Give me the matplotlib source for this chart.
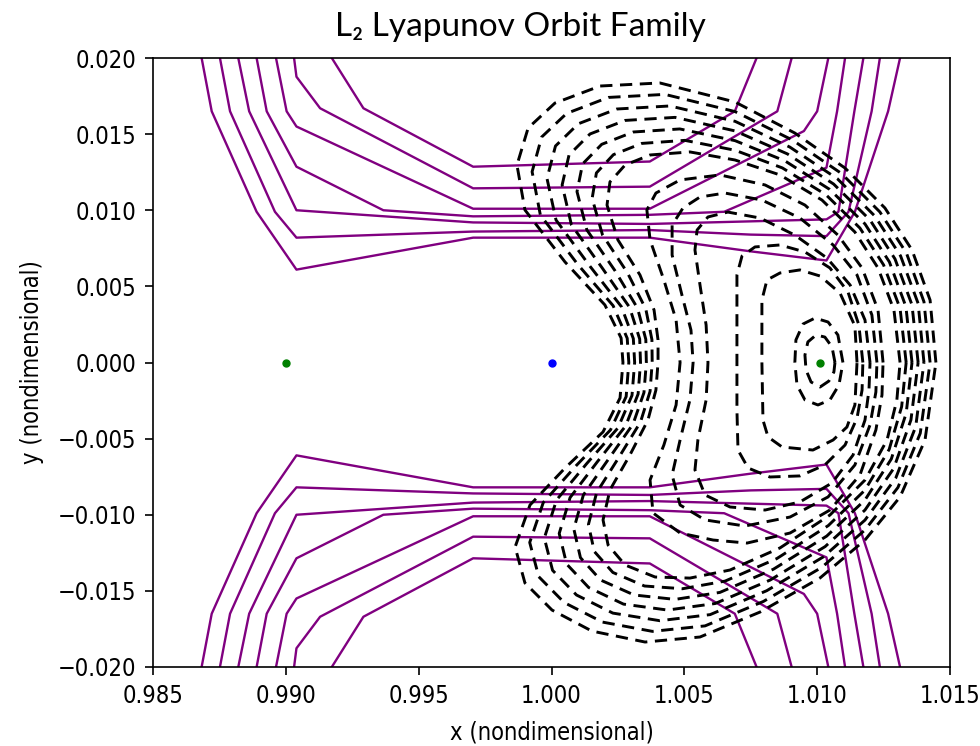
import matplotlib
matplotlib.use("Agg")
import matplotlib.pyplot as plt
from matplotlib.ticker import FuncFormatter
from matplotlib import font_manager
import numpy as np

# ---------------- data ----------------
L1 = (0.9900, 0.0)
L2 = (1.0101, 0.0)
EARTH = (1.0000, 0.0)

x_ticks = [0.985, 0.990, 0.995, 1.000, 1.005, 1.010, 1.015]
y_ticks = [-0.020, -0.015, -0.010, -0.005, 0.000, 0.005, 0.010, 0.015, 0.020]

# zero-velocity curves, upper half (lower half is the mirror image)
zvc_a = [(0.98683, 0.0200), (0.98721, 0.0165), (0.98890, 0.0099), (0.99040, 0.0061), (0.99705, 0.0082),
         (1.00370, 0.0082), (1.00750, 0.0073), (1.01035, 0.0067), (1.01142, 0.0099), (1.01267, 0.0165), (1.01312, 0.0200)]
zvc_b = [(0.98752, 0.0200), (0.98790, 0.0165), (0.98959, 0.0099), (0.99040, 0.0082), (0.99705, 0.0086),
         (1.00370, 0.0087), (1.00750, 0.0084), (1.01035, 0.0083), (1.01118, 0.0099), (1.01205, 0.0165), (1.01236, 0.0200)]
zvc_c = [(0.98821, 0.0200), (0.98862, 0.0165), (0.99040, 0.0100), (0.99705, 0.0092), (1.00370, 0.0091),
         (1.01035, 0.0094), (1.01080, 0.0099), (1.01140, 0.0165), (1.01174, 0.0200)]
zvc_d = [(0.98890, 0.0200), (0.98928, 0.0165), (0.99040, 0.01286), (0.99367, 0.0100), (0.99705, 0.0096),
         (1.00370, 0.0097), (1.00650, 0.0099), (1.01035, 0.0128), (1.01075, 0.0165), (1.01105, 0.0200)]
zvc_e = [(0.98963, 0.0200), (0.99003, 0.0165), (0.99040, 0.0155), (0.99705, 0.0101), (1.00370, 0.0101),
         (1.00950, 0.0152), (1.01000, 0.0165), (1.01042, 0.0200)]
zvc_f = [(0.99031, 0.0200), (0.99040, 0.01877), (0.99129, 0.0167), (0.99705, 0.01144), (1.00370, 0.01155),
         (1.00850, 0.0165), (1.00904, 0.0200)]
zvc_g = [(0.99173, 0.0200), (0.99292, 0.0167), (0.99705, 0.01286), (1.00370, 0.0132),
         (1.00690, 0.0165), (1.00772, 0.0200)]

# Lyapunov orbits around L2 (smallest to largest)
orbit_01 = [(1.01067, 0.00000), (1.01056, 0.00102), (1.01029, 0.00167), (1.00996, 0.00181), (1.00965, 0.00135),
            (1.00954, 0.00049), (1.00958, -0.00049), (1.00977, -0.00128), (1.01011, -0.00161), (1.01044, -0.00122),
            (1.01063, -0.00062)]
orbit_02 = [(1.01097, 0.00000), (1.01078, 0.00181), (1.01041, 0.00266), (1.00992, 0.00292), (1.00947, 0.00253),
            (1.00920, 0.00148), (1.00916, 0.00000), (1.00924, -0.00148), (1.00954, -0.00246), (1.01003, -0.00279),
            (1.01048, -0.00246), (1.01082, -0.00148)]
orbit_03 = [(1.01150, 0.00000), (1.01142, 0.00240), (1.01086, 0.00456), (1.01011, 0.00568), (1.00935, 0.00608),
            (1.00860, 0.00588), (1.00811, 0.00542), (1.00792, 0.00410), (1.00792, 0.00000), (1.00796, -0.00378),
            (1.00815, -0.00489), (1.00868, -0.00555), (1.00984, -0.00575), (1.01060, -0.00509), (1.01112, -0.00424),
            (1.01142, -0.00279)]
orbit_04 = [(1.01172, 0.00000), (1.01157, 0.00246), (1.01116, 0.00463), (1.01048, 0.00621), (1.00954, 0.00726),
            (1.00860, 0.00772), (1.00766, 0.00759), (1.00717, 0.00699), (1.00698, 0.00575), (1.00698, 0.00279),
            (1.00698, 0.00000), (1.00698, -0.00312), (1.00702, -0.00575), (1.00740, -0.00693), (1.00822, -0.00752),
            (1.00935, -0.00745), (1.01029, -0.00673), (1.01105, -0.00542), (1.01150, -0.00365), (1.01169, -0.00181)]
orbit_05 = [(1.01199, 0.00000), (1.01180, 0.00279), (1.01124, 0.00509), (1.01037, 0.00686), (1.00916, 0.00837),
            (1.00785, 0.00949), (1.00664, 0.00988), (1.00589, 0.00956), (1.00548, 0.00870), (1.00540, 0.00739),
            (1.00559, 0.00509), (1.00582, 0.00246), (1.00589, 0.00000), (1.00582, -0.00246), (1.00551, -0.00509),
            (1.00540, -0.00706), (1.00578, -0.00870), (1.00672, -0.00949), (1.00804, -0.00969), (1.00935, -0.00916),
            (1.01056, -0.00791), (1.01135, -0.00608), (1.01180, -0.00378), (1.01195, -0.00181)]
orbit_06 = [(1.01225, 0.00000), (1.01206, 0.00312), (1.01150, 0.00575), (1.01060, 0.00772), (1.00935, 0.00949),
            (1.00792, 0.01067), (1.00653, 0.01113), (1.00559, 0.01087), (1.00495, 0.01015), (1.00454, 0.00903),
            (1.00454, 0.00706), (1.00491, 0.00443), (1.00525, 0.00213), (1.00533, 0.00000), (1.00521, -0.00246),
            (1.00484, -0.00509), (1.00454, -0.00739), (1.00484, -0.00936), (1.00578, -0.01034), (1.00728, -0.01074),
            (1.00898, -0.01015), (1.01041, -0.00883), (1.01142, -0.00673), (1.01199, -0.00410), (1.01221, -0.00194)]
orbit_07 = [(1.01248, 0.00000), (1.01229, 0.00345), (1.01169, 0.00621), (1.01078, 0.00837), (1.00954, 0.01034),
            (1.00804, 0.01166), (1.00634, 0.01232), (1.00484, 0.01199), (1.00393, 0.01113), (1.00359, 0.01002),
            (1.00371, 0.00805), (1.00423, 0.00542), (1.00469, 0.00279), (1.00484, 0.00000), (1.00469, -0.00279),
            (1.00423, -0.00542), (1.00371, -0.00772), (1.00382, -0.00988), (1.00484, -0.01120), (1.00608, -0.01166),
            (1.00736, -0.01186), (1.00898, -0.01120), (1.01048, -0.00969), (1.01161, -0.00739), (1.01221, -0.00443),
            (1.01244, -0.00213)]
orbit_08 = [(1.01312, 0.00000), (1.01289, 0.00345), (1.01229, 0.00621), (1.01142, 0.00857), (1.01018, 0.01067),
            (1.00860, 0.01232), (1.00691, 0.01330), (1.00521, 0.01383), (1.00371, 0.01363), (1.00277, 0.01297),
            (1.00220, 0.01186), (1.00209, 0.01034), (1.00250, 0.00805), (1.00333, 0.00575), (1.00386, 0.00345),
            (1.00401, 0.00148), (1.00401, 0.00000), (1.00393, -0.00181), (1.00363, -0.00378), (1.00295, -0.00608),
            (1.00220, -0.00837), (1.00194, -0.01034), (1.00213, -0.01199), (1.00277, -0.01330), (1.00390, -0.01409),
            (1.00521, -0.01416), (1.00672, -0.01363), (1.00860, -0.01218), (1.01048, -0.01002), (1.01180, -0.00772),
            (1.01263, -0.00509), (1.01300, -0.00246)]
orbit_09 = [(1.01335, 0.00000), (1.01312, 0.00356), (1.01250, 0.00641), (1.01161, 0.00883), (1.01033, 0.01102),
            (1.00869, 0.01278), (1.00691, 0.01394), (1.00502, 0.01459), (1.00340, 0.01439), (1.00233, 0.01365),
            (1.00169, 0.01245), (1.00153, 0.01078), (1.00192, 0.00838), (1.00286, 0.00589), (1.00355, 0.00351),
            (1.00378, 0.00150), (1.00379, 0.00000), (1.00371, -0.00190), (1.00335, -0.00391), (1.00254, -0.00622),
            (1.00170, -0.00854), (1.00139, -0.01064), (1.00161, -0.01241), (1.00231, -0.01379), (1.00350, -0.01468),
            (1.00493, -0.01486), (1.00653, -0.01436), (1.00848, -0.01288), (1.01042, -0.01071), (1.01180, -0.00838),
            (1.01271, -0.00571), (1.01318, -0.00290)]
orbit_10 = [(1.01357, 0.00000), (1.01334, 0.00367), (1.01272, 0.00660), (1.01180, 0.00910), (1.01047, 0.01137),
            (1.00879, 0.01324), (1.00691, 0.01457), (1.00483, 0.01534), (1.00308, 0.01514), (1.00189, 0.01433),
            (1.00117, 0.01304), (1.00096, 0.01122), (1.00133, 0.00871), (1.00239, 0.00603), (1.00324, 0.00356),
            (1.00355, 0.00152), (1.00357, 0.00000), (1.00348, -0.00198), (1.00307, -0.00404), (1.00214, -0.00636),
            (1.00120, -0.00870), (1.00084, -0.01093), (1.00109, -0.01282), (1.00185, -0.01429), (1.00311, -0.01527),
            (1.00465, -0.01556), (1.00634, -0.01510), (1.00835, -0.01358), (1.01036, -0.01140), (1.01180, -0.00903),
            (1.01279, -0.00634), (1.01335, -0.00334)]
orbit_11 = [(1.01380, 0.00000), (1.01357, 0.00378), (1.01293, 0.00680), (1.01199, 0.00936), (1.01062, 0.01172),
            (1.00888, 0.01370), (1.00691, 0.01521), (1.00465, 0.01610), (1.00277, 0.01590), (1.00145, 0.01501),
            (1.00066, 0.01363), (1.00040, 0.01166), (1.00075, 0.00904), (1.00192, 0.00618), (1.00294, 0.00362),
            (1.00332, 0.00154), (1.00335, 0.00000), (1.00326, -0.00207), (1.00279, -0.00417), (1.00173, -0.00651),
            (1.00070, -0.00887), (1.00029, -0.01123), (1.00057, -0.01324), (1.00140, -0.01478), (1.00271, -0.01587),
            (1.00437, -0.01626), (1.00616, -0.01583), (1.00823, -0.01429), (1.01030, -0.01209), (1.01180, -0.00969),
            (1.01288, -0.00696), (1.01353, -0.00377)]
orbit_12 = [(1.01402, 0.00000), (1.01380, 0.00388), (1.01314, 0.00700), (1.01217, 0.00962), (1.01076, 0.01207),
            (1.00897, 0.01415), (1.00691, 0.01584), (1.00446, 0.01685), (1.00246, 0.01665), (1.00101, 0.01568),
            (1.00015, 0.01422), (0.99983, 0.01209), (1.00017, 0.00936), (1.00145, 0.00632), (1.00263, 0.00367),
            (1.00308, 0.00157), (1.00313, 0.00000), (1.00303, -0.00216), (1.00250, -0.00430), (1.00132, -0.00665),
            (1.00019, -0.00903), (0.99973, -0.01153), (1.00004, -0.01365), (1.00094, -0.01527), (1.00231, -0.01646),
            (1.00408, -0.01696), (1.00597, -0.01656), (1.00810, -0.01499), (1.01023, -0.01277), (1.01180, -0.01035),
            (1.01296, -0.00758), (1.01371, -0.00421)]
orbit_13 = [(1.01425, 0.00000), (1.01402, 0.00399), (1.01336, 0.00719), (1.01236, 0.00989), (1.01091, 0.01242),
            (1.00907, 0.01461), (1.00691, 0.01648), (1.00427, 0.01761), (1.00214, 0.01741), (1.00057, 0.01636),
            (0.99963, 0.01481), (0.99927, 0.01253), (0.99958, 0.00969), (1.00098, 0.00646), (1.00232, 0.00373),
            (1.00285, 0.00159), (1.00291, 0.00000), (1.00281, -0.00224), (1.00222, -0.00443), (1.00092, -0.00679),
            (0.99969, -0.00920), (0.99918, -0.01182), (0.99952, -0.01407), (1.00048, -0.01577), (1.00192, -0.01705),
            (1.00380, -0.01766), (1.00578, -0.01730), (1.00798, -0.01569), (1.01017, -0.01346), (1.01180, -0.01100),
            (1.01304, -0.00821), (1.01388, -0.00465)]
orbit_14 = [(1.01447, 0.00000), (1.01425, 0.00410), (1.01357, 0.00739), (1.01255, 0.01015), (1.01105, 0.01277),
            (1.00916, 0.01507), (1.00691, 0.01711), (1.00408, 0.01836), (1.00183, 0.01816), (1.00013, 0.01704),
            (0.99912, 0.01540), (0.99870, 0.01297), (0.99900, 0.01002), (1.00051, 0.00660), (1.00201, 0.00378),
            (1.00262, 0.00161), (1.00269, 0.00000), (1.00258, -0.00233), (1.00194, -0.00456), (1.00051, -0.00693),
            (0.99919, -0.00936), (0.99863, -0.01212), (0.99900, -0.01448), (1.00002, -0.01626), (1.00152, -0.01764),
            (1.00352, -0.01836), (1.00559, -0.01803), (1.00785, -0.01639), (1.01011, -0.01415), (1.01180, -0.01166),
            (1.01312, -0.00883), (1.01406, -0.00509)]

zvcs = [zvc_a, zvc_b, zvc_c, zvc_d, zvc_e, zvc_f, zvc_g]
orbits = [orbit_01, orbit_02, orbit_03, orbit_04, orbit_05, orbit_06, orbit_07,
          orbit_08, orbit_09, orbit_10, orbit_11, orbit_12, orbit_13, orbit_14]

# ---------------- plot ----------------
fig = plt.figure(figsize=(9.8, 7.46), dpi=100)
ax = fig.add_axes([153 / 980, 79 / 746, 797 / 980, 609 / 746])

for z in zvcs:
    zx = np.array([p[0] for p in z])
    zy = np.array([p[1] for p in z])
    ax.plot(zx, zy, color="#800080", lw=1.7, zorder=2)
    ax.plot(zx, -zy, color="#800080", lw=1.7, zorder=2)

for o in orbits:
    ox = [p[0] for p in o] + [o[0][0]]
    oy = [p[1] for p in o] + [o[0][1]]
    ax.plot(ox, oy, color="black", lw=2.1, ls=(0, (4.2, 2.6)), zorder=3)

ax.plot([L1[0], L2[0]], [L1[1], L2[1]], "o", color="green", ms=5, zorder=5)
ax.plot([EARTH[0]], [EARTH[1]], "o", color="blue", ms=5, zorder=5)

ax.set_xlim(0.985, 1.015)
ax.set_ylim(-0.020, 0.020)
ax.set_xticks(x_ticks)
ax.set_yticks(y_ticks)
fmt = FuncFormatter(lambda v, pos: f"{v:.3f}".replace("-", "\u2212") if abs(v) > 1e-9 else "0.000")
ax.xaxis.set_major_formatter(fmt)
ax.yaxis.set_major_formatter(fmt)

# condensed tick font if available (reference text is narrow and tall)
cond_path = font_manager.findfont(font_manager.FontProperties(family="DejaVu Sans", stretch="condensed"))
if "Condensed" in cond_path:
    tick_fp = dict(fontsize=17, fontstretch="condensed")
    lab_fp = dict(fontsize=17, fontstretch="condensed")
else:
    tick_fp = dict(fontsize=15)
    lab_fp = dict(fontsize=15.5)

ax.tick_params(length=6, width=1.2, pad=6)
for lbl in ax.get_xticklabels() + ax.get_yticklabels():
    lbl.set_fontsize(tick_fp["fontsize"])
    if "fontstretch" in tick_fp:
        lbl.set_fontstretch(tick_fp["fontstretch"])
for s in ax.spines.values():
    s.set_linewidth(1.2)

ax.set_xlabel("x (nondimensional)", labelpad=9, **lab_fp)
ax.set_ylabel("y (nondimensional)", labelpad=10, **lab_fp)
fig.text(520 / 980, 1 - 27 / 746, "L\u2082 Lyapunov Orbit Family", fontsize=24,
         family=["Lato", "DejaVu Sans"], ha="center", va="center")

fig.savefig("out.png", dpi=100)
